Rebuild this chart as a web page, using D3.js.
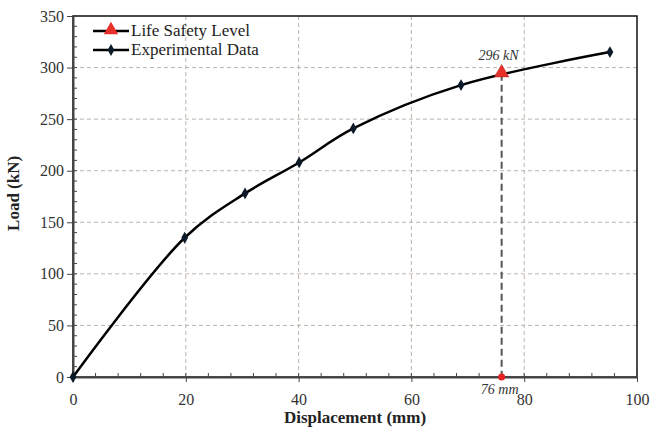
<!DOCTYPE html>
<html>
<head>
<meta charset="utf-8">
<script src="https://cdn.jsdelivr.net/npm/d3@7"></script>
<style>
  body { margin: 0; background: #fff; }
  text { font-family: "Liberation Serif", "Times New Roman", serif; }
</style>
</head>
<body>
<svg id="chart" width="652" height="428"></svg>
<script>
// experimental load-displacement data
const dispValues = [0, 19.8, 30.5, 40.1, 49.7, 68.8, 95.2]
const loadValues = [0, 135, 178, 208, 241, 283, 315]
// life safety level point
const lsDisp = [76]
const lsLoad = [294]
const xTicks = [0, 20, 40, 60, 80, 100]
const yTicks = [0, 50, 100, 150, 200, 250, 300, 350]
const legendLabels = ['Life Safety Level', 'Experimental Data']

const svg = d3.select('#chart')
const margin = {left: 73, right: 15, top: 16, bottom: 51}
const width = 652 - margin.left - margin.right
const height = 428 - margin.top - margin.bottom

const x = d3.scaleLinear().domain([0, 100]).range([margin.left, margin.left + width])
const y = d3.scaleLinear().domain([0, 350]).range([margin.top + height, margin.top])

// grid
const grid = svg.append('g')
grid.selectAll('.gx').data(xTicks.slice(1, -1)).enter().append('line')
    .attr('x1', d => x(d)).attr('x2', d => x(d))
    .attr('y1', y(0)).attr('y2', y(350))
    .attr('stroke', '#bdb3ab').attr('stroke-dasharray', '4,3').attr('stroke-width', 1)
grid.selectAll('.gy').data(yTicks.slice(1, -1)).enter().append('line')
    .attr('x1', x(0)).attr('x2', x(100))
    .attr('y1', d => y(d)).attr('y2', d => y(d))
    .attr('stroke', '#bdb3ab').attr('stroke-dasharray', '4,3').attr('stroke-width', 1)

// frame
svg.append('rect')
    .attr('x', x(0)).attr('y', y(350))
    .attr('width', width).attr('height', height)
    .attr('fill', 'none').attr('stroke', '#111').attr('stroke-width', 1.5)

// minor ticks
const minorX = d3.range(0, 100.1, 4)
svg.append('g').selectAll('line').data(minorX).enter().append('line')
    .attr('x1', d => x(d)).attr('x2', d => x(d))
    .attr('y1', y(0)).attr('y2', y(0) - 4)
    .attr('stroke', '#444')
const minorY = d3.range(0, 350.1, 10)
svg.append('g').selectAll('line').data(minorY).enter().append('line')
    .attr('x1', x(0)).attr('x2', x(0) + 4)
    .attr('y1', d => y(d)).attr('y2', d => y(d))
    .attr('stroke', '#444')

// axes
const xAxis = svg.append('g')
    .attr('transform', `translate(0,${y(0)})`)
    .call(d3.axisBottom(x).tickValues(xTicks).tickSize(5).tickSizeOuter(0))
    .attr('font-family', '"Liberation Serif", serif')
xAxis.select('.domain').attr('stroke', '#444').attr('stroke-width', 2)
xAxis.selectAll('.tick line').attr('stroke', '#444')
xAxis.selectAll('.tick text').attr('font-size', 16).attr('fill', '#333').attr('y', 12).attr('dy', '1em')

const yAxis = svg.append('g')
    .attr('transform', `translate(${x(0)},0)`)
    .call(d3.axisLeft(y).tickValues(yTicks).tickSize(6).tickSizeOuter(0))
    .attr('font-family', '"Liberation Serif", serif')
yAxis.select('.domain').attr('stroke', '#444').attr('stroke-width', 2)
yAxis.selectAll('.tick line').attr('stroke', '#444')
yAxis.selectAll('.tick text').attr('font-size', 16).attr('fill', '#333').attr('x', -9)

// axis titles
svg.append('text').text('Displacement (mm)')
    .attr('x', x(50)).attr('y', 423).attr('text-anchor', 'middle')
    .attr('font-size', 17).attr('font-weight', 'bold').attr('fill', '#222')
svg.append('text').text('Load (kN)')
    .attr('transform', `translate(19,${y(178)}) rotate(-90)`)
    .attr('text-anchor', 'middle')
    .attr('font-size', 17).attr('font-weight', 'bold').attr('fill', '#222')

// life safety dashed drop line
svg.append('line')
    .attr('x1', x(lsDisp[0])).attr('x2', x(lsDisp[0]))
    .attr('y1', y(lsLoad[0])).attr('y2', y(0))
    .attr('stroke', '#555').attr('stroke-width', 2).attr('stroke-dasharray', '7,4')

// curve
const pts = dispValues.map((d, i) => [d, loadValues[i]])
const line = d3.line().x(d => x(d[0])).y(d => y(d[1])).curve(d3.curveCatmullRom.alpha(0.5))
svg.append('path').datum(pts)
    .attr('d', line).attr('fill', 'none').attr('stroke', '#000').attr('stroke-width', 2.5)

const diamond = d3.symbol().type(d3.symbolDiamond).size(40)
svg.append('g').selectAll('path').data(pts).enter().append('path')
    .attr('d', diamond)
    .attr('transform', d => `translate(${x(d[0])},${y(d[1])})`)
    .attr('fill', '#0d1a2a')

// life safety marker
const tri = d3.symbol().type(d3.symbolTriangle).size(90)
svg.append('path').attr('d', tri)
    .attr('transform', `translate(${x(lsDisp[0])},${y(lsLoad[0]) - 1})`)
    .attr('fill', '#e8302a').attr('stroke', '#b02020').attr('stroke-width', 0.5)
svg.append('circle')
    .attr('cx', x(lsDisp[0])).attr('cy', y(0)).attr('r', 3.5)
    .attr('fill', '#e82020')

// annotations
svg.append('text').text('296 kN')
    .attr('x', x(lsDisp[0]) - 3).attr('y', y(lsLoad[0]) - 14)
    .attr('text-anchor', 'middle').attr('font-size', 14).attr('font-style', 'italic').attr('fill', '#333')
svg.append('text').text('76 mm')
    .attr('x', x(lsDisp[0]) - 2).attr('y', y(0) + 17)
    .attr('text-anchor', 'middle').attr('font-size', 14).attr('font-style', 'italic').attr('fill', '#333')

// legend
const legend = svg.append('g').attr('transform', `translate(${x(0) + 20},0)`)
legendLabels.forEach((lab, i) => {
    const ly = 35 + i * 19
    legend.append('line').attr('x1', 0).attr('x2', 36).attr('y1', ly - 4).attr('y2', ly - 4)
        .attr('stroke', '#000').attr('stroke-width', 2.5)
    if (i === 0) {
        legend.append('path').attr('d', tri).attr('transform', `translate(18,${ly - 5})`)
            .attr('fill', '#e8302a')
    } else {
        legend.append('path').attr('d', diamond).attr('transform', `translate(18,${ly - 4})`)
            .attr('fill', '#0d1a2a')
    }
    legend.append('text').text(lab).attr('x', 38).attr('y', ly + 1)
        .attr('font-size', 17).attr('fill', '#222')
})
</script>
</body>
</html>
